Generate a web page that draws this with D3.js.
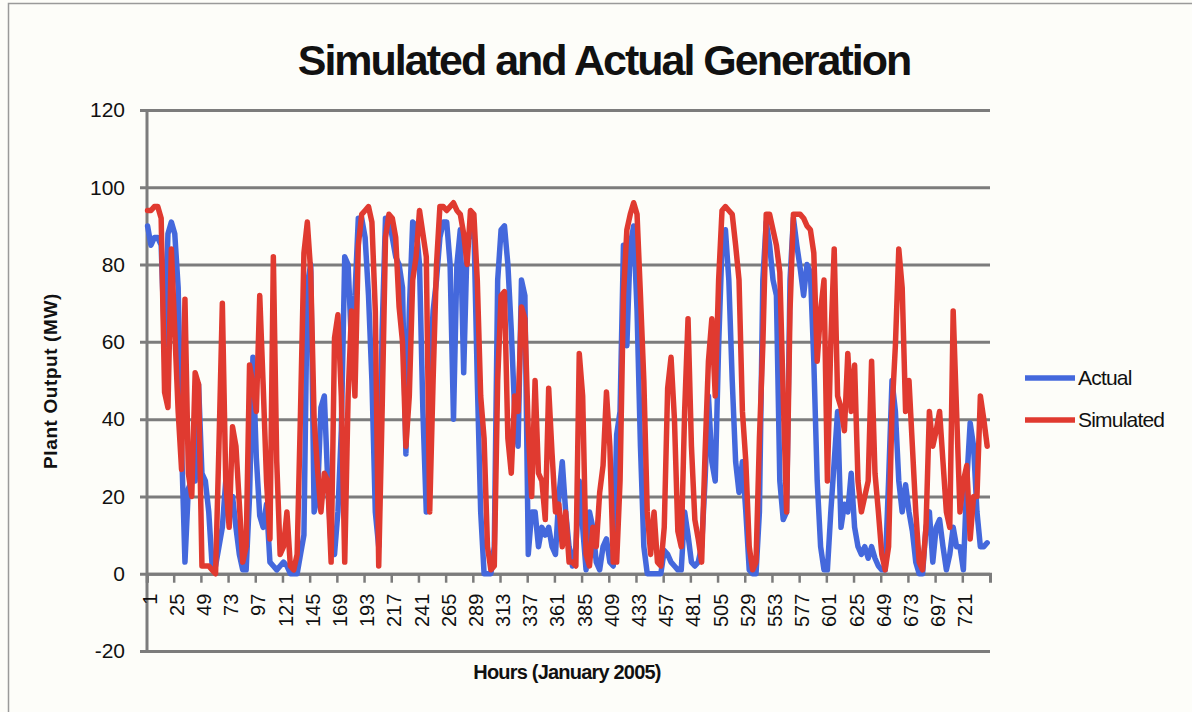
<!DOCTYPE html>
<html>
<head>
<meta charset="utf-8">
<script src="https://cdnjs.cloudflare.com/ajax/libs/d3/7.8.5/d3.min.js"></script>
<style>
  body { margin: 0; background: #fdfdf9; }
  svg text { font-family: "Liberation Sans", Arial, sans-serif; fill: #111; }
</style>
</head>
<body>
<div id="chart"></div>
<script>
// hourly output, sampled every 3 hours (hour 1, 4, 7, ... 742)
var step = 3;
var actual = [
  90,85,87,87,85,59,88,91,88,74,33,3,22,24,24,49,26,24,16,2,2,7,12,24,20,
  20,12,5,1,1,20,56,30,15,12,18,3,2,1,2,3,2,0,0,0,5,10,75,80,
  16,20,43,46,24,7,5,16,37,82,80,59,72,92,92,87,72,50,16,7,63,92,92,87,82,80,
  74,31,68,91,90,80,42,16,50,68,76,87,91,91,80,40,80,89,52,85,89,90,50,16,0,
  0,0,7,76,89,90,80,63,42,33,76,72,5,16,16,7,12,10,12,7,5,20,29,16,7,
  2,7,24,12,1,16,12,3,1,7,9,3,2,36,42,85,59,85,90,68,33,7,0,0,0,
  0,0,6,5,3,2,1,1,16,10,3,2,3,7,24,46,29,24,59,85,89,76,50,29,21,
  29,16,1,0,0,16,76,91,85,76,72,24,14,16,76,92,85,79,72,80,78,55,24,7,1,
  1,16,29,42,12,18,16,26,12,7,5,7,4,7,4,2,1,1,24,50,42,24,16,23,16,
  11,3,0,0,12,16,3,12,14,7,1,5,12,7,7,1,24,39,33,16,7,7,8
];
var simulated = [
  94,94,95,95,92,47,43,84,63,42,27,71,26,20,52,49,2,2,2,1,0,33,70,24,12,
  38,33,18,3,7,54,49,42,72,49,24,9,82,29,5,7,16,2,1,5,42,83,91,78,
  40,27,16,26,24,3,61,67,46,3,46,68,46,85,93,94,95,91,68,2,42,87,93,92,87,69,
  60,33,46,76,82,94,88,82,16,50,80,95,95,94,95,96,94,93,88,80,94,93,76,46,35,
  7,1,2,50,72,73,35,26,46,42,69,66,37,20,50,26,24,14,48,31,16,18,7,16,3,
  3,2,57,46,5,2,12,7,21,28,47,33,3,3,24,72,89,93,96,93,72,50,16,5,16,
  3,2,12,48,56,40,11,7,42,66,33,14,9,3,31,55,66,46,76,94,95,94,93,85,76,
  42,29,7,1,3,35,59,93,93,89,85,78,46,16,68,93,93,93,92,90,89,83,55,68,76,
  24,60,84,46,43,37,57,42,54,24,16,20,24,55,26,16,5,1,7,42,59,84,74,42,50,
  33,16,3,1,12,42,33,37,42,29,16,12,68,42,16,24,28,9,20,20,46,40,33
];
var hourCount = 744;
var xTickLabels = [1,25,49,73,97,121,145,169,193,217,241,265,289,313,337,361,385,409,433,457,481,505,529,553,577,601,625,649,673,697,721];
var yTicks = [-20,0,20,40,60,80,100,120];
var seriesNames = ["Actual", "Simulated"];
var seriesColors = ["#4468dc", "#e03a30"];

var W = 1192, H = 712;
var plotL = 147, plotR = 990, plotT = 110, plotB = 651;

var svg = d3.select("#chart").append("svg")
  .attr("width", W).attr("height", H);

svg.append("rect").attr("width", W).attr("height", H).attr("fill", "#fdfdf9");
svg.append("rect").attr("x", 8.5).attr("y", 3.5).attr("width", 1200).attr("height", 720)
  .attr("fill", "none").attr("stroke", "#9a9a9a").attr("stroke-width", 1.5);

var hours = d3.range(1, hourCount + 1);
var x = d3.scaleBand().domain(hours).range([plotL, plotR]);
var y = d3.scaleLinear().domain([-20, 120]).range([plotB, plotT]);
var xc = function (h) { return x(h) + x.bandwidth() / 2; };

// horizontal gridlines + y labels
var yAxis = svg.append("g")
  .attr("transform", "translate(" + plotL + ",0)")
  .call(d3.axisLeft(y).tickValues(yTicks).tickSize(-(plotR - plotL)).tickPadding(22)
    .tickFormat(function (d) { return String(d); }));
yAxis.select(".domain").remove();
yAxis.selectAll(".tick line")
  .attr("x1", -7)
  .attr("stroke", "#7c7c7c").attr("stroke-width", 3);
yAxis.selectAll(".tick text")
  .attr("font-size", 21).attr("fill", "#111").style("font-family", "Liberation Sans, Arial, sans-serif");

// vertical axis line
svg.append("line")
  .attr("x1", plotL).attr("x2", plotL).attr("y1", plotT).attr("y2", plotB)
  .attr("stroke", "#7c7c7c").attr("stroke-width", 3);

// x axis sits on zero
var xAxis = svg.append("g")
  .attr("transform", "translate(0," + y(0) + ")")
  .call(d3.axisBottom(x).tickValues(xTickLabels).tickSize(9).tickPadding(0));
xAxis.select(".domain").attr("stroke", "#7c7c7c").attr("stroke-width", 3);
xAxis.selectAll(".tick line")
  .attr("transform", "translate(" + (-x.bandwidth() / 2) + ",0)")
  .attr("stroke", "#7c7c7c").attr("stroke-width", 2.5);
xAxis.selectAll(".tick text")
  .attr("font-size", 20).attr("fill", "#111")
  .style("font-family", "Liberation Sans, Arial, sans-serif")
  .attr("text-anchor", "end")
  .attr("transform", "translate(2,20) rotate(-90)")
  .attr("x", 0).attr("y", 0).attr("dy", "0.35em");

// series lines
var line = d3.line()
  .x(function (d, i) { return xc(1 + i * step); })
  .y(function (d) { return y(d); });

[actual, simulated].forEach(function (s, k) {
  svg.append("path")
    .datum(s)
    .attr("d", line)
    .attr("fill", "none")
    .attr("stroke", seriesColors[k])
    .attr("stroke-width", 5.5)
    .attr("stroke-linejoin", "round")
    .attr("stroke-linecap", "round");
});

// title
svg.append("text")
  .attr("x", 604).attr("y", 75)
  .attr("text-anchor", "middle")
  .attr("font-size", 43).attr("font-weight", "bold")
  .attr("letter-spacing", -2)
  .text("Simulated and Actual Generation");

// axis titles
svg.append("text")
  .attr("transform", "translate(57,381) rotate(-90)")
  .attr("text-anchor", "middle")
  .attr("font-size", 19).attr("font-weight", "bold")
  .attr("letter-spacing", 0.6)
  .text("Plant Output (MW)");

svg.append("text")
  .attr("x", 567).attr("y", 679)
  .attr("text-anchor", "middle")
  .attr("font-size", 20).attr("font-weight", "bold")
  .attr("letter-spacing", -0.8)
  .text("Hours (January 2005)");

// legend
var legend = svg.append("g");
seriesNames.forEach(function (name, k) {
  var ly = 378 + k * 42;
  legend.append("line")
    .attr("x1", 1025).attr("x2", 1075).attr("y1", ly).attr("y2", ly)
    .attr("stroke", seriesColors[k]).attr("stroke-width", 5.5);
  legend.append("text")
    .attr("x", 1078).attr("y", ly + 7)
    .attr("font-size", 21).attr("letter-spacing", -0.8)
    .text(name);
});
</script>
</body>
</html>
